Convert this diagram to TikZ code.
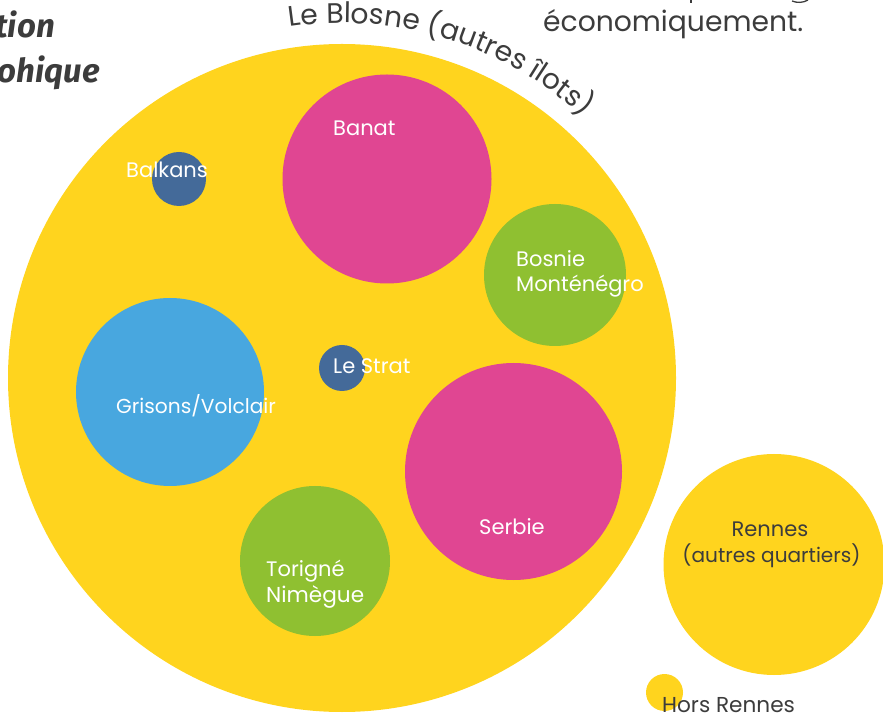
\documentclass[tikz,border=0pt]{standalone}
\usepackage{fontspec}
\setmainfont{Poppins}
\newfontfamily\titlefont{Fira Sans}
\usetikzlibrary{decorations.text}
\definecolor{jaune}{HTML}{FFD41E}
\definecolor{rose}{HTML}{E04692}
\definecolor{vert}{HTML}{8FC031}
\definecolor{bleu}{HTML}{48A7DF}
\definecolor{marine}{HTML}{446A99}
\definecolor{encre}{HTML}{3C3C3C}
\tikzset{
  bulle/.style={circle,fill=#1,inner sep=0pt},
  blanc/.style={text=white,anchor=base west,inner sep=0pt,font=\fontsize{21}{25}\selectfont},
  noir/.style={text=encre,inner sep=0pt,font=\fontsize{21}{25}\selectfont},
  titre/.style={text=encre,anchor=base east,inner sep=0pt,font=\titlefont\itshape\bfseries\fontsize{33}{36}\selectfont}
}

\begin{document}
\begin{tikzpicture}[x=1pt,y=1pt]
\useasboundingbox (0,0) rectangle (883,715);

\node [bulle=jaune,minimum size=668pt] (blosne) at (342,337) {};
\node [bulle=rose,minimum size=209pt] (banat) at (387,536) {};
\node [bulle=marine,minimum size=54pt] (balkans) at (179,536) {};
\node [bulle=vert,minimum size=142pt] (bosnie) at (555,440) {};
\node [bulle=bleu,minimum size=188pt] (grisons) at (170,323) {};
\node [bulle=marine,minimum size=46pt] (strat) at (342,347) {};
\node [bulle=rose,minimum size=217pt] (serbie) at (513.5,243.5) {};
\node [bulle=vert,minimum size=150pt] (torigne) at (315,154) {};
\node [bulle=jaune,minimum size=221pt] (rennes) at (774,150.5) {};
\node [bulle=jaune,minimum size=37pt] (hors) at (664.5,22.5) {};

\node [blanc] (lbanat) at (333,579) {Banat};
\node [blanc] (lbalkans) at (126,537) {Balkans};
\node [blanc] (lbosnie) at (516,448) {Bosnie};
\node [blanc] (lmonte) at (516,423) {Monténégro};
\node [blanc] (lstrat) at (333,341) {Le Strat};
\node [blanc,font=\fontsize{20.2}{25}\selectfont] (lgrisons) at (116,301) {Grisons/Volclair};
\node [blanc] (lserbie) at (479,180) {Serbie};
\node [blanc] (ltorigne) at (266,139) {Torigné};
\node [blanc,font=\fontsize{21.6}{25}\selectfont] (lnimegue) at (266,113) {Nimègue};

\node [noir,anchor=base] (lrennes) at (770,178) {Rennes};
\node [noir,anchor=base,font=\fontsize{20.1}{25}\selectfont] (lautres) at (771.5,153) {(autres quartiers)};
\node [noir,anchor=base west,font=\fontsize{21.6}{25}\selectfont] (lhors) at (662,3) {Hors Rennes};

% texte du haut, coupe par le cadre
\node [noir,anchor=base west,font=\fontsize{28.2}{30}\selectfont] (leco) at (543,683) {économiquement.};
\draw [encre,line width=1.3pt] (691,715) -- (691,712);
\draw [encre,line width=1.3pt] (792,714) .. controls (797,712) and (803,712) .. (808,715);
\node [titre] (ltion) at (55,677) {tion};
\node [titre] (lohique) at (100,632) {ohique};

% nom du grand cercle, le long de son bord
\path [decorate,decoration={text along path,text color=encre,text={|\fontsize{28.2}{30}\selectfont|Le Blosne (autres îlots)}}] (blosne.center) ++(98.5:355) arc [radius=355, start angle=98.5, end angle=44];
\end{tikzpicture}
\end{document}
